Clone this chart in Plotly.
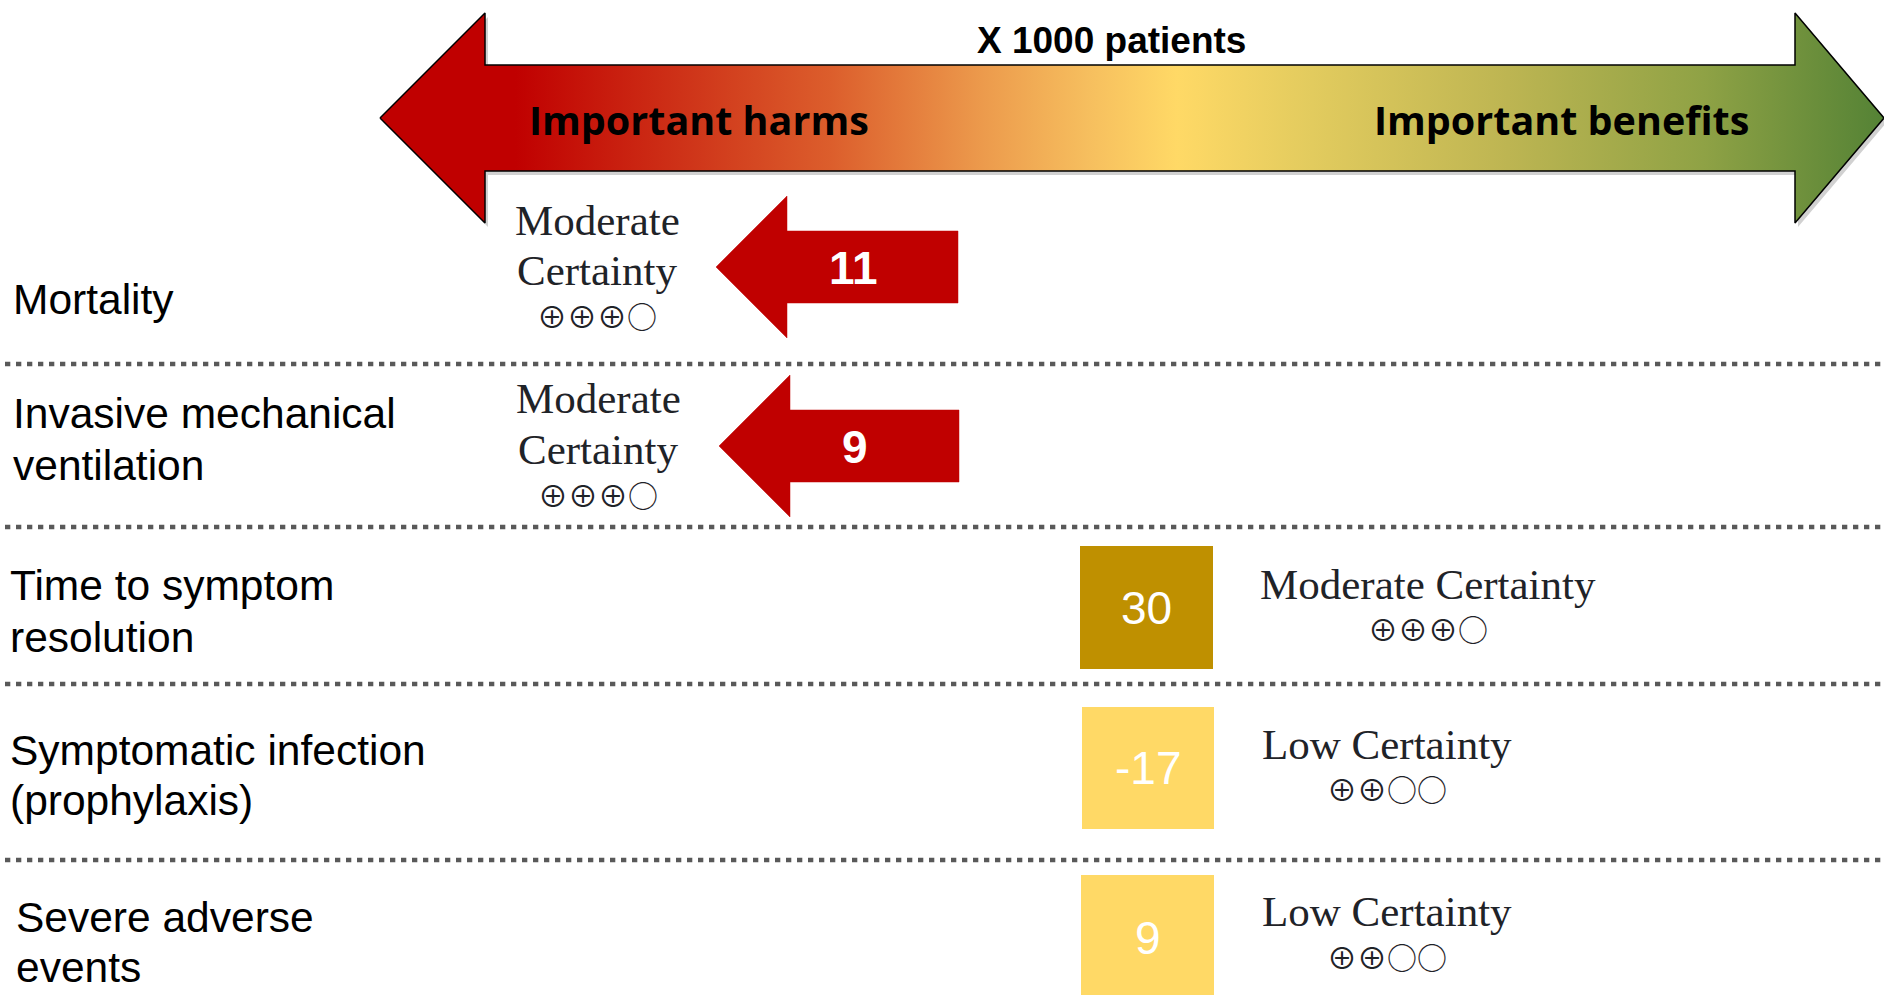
import plotly.graph_objects as go

# ---------------- data ----------------
outcomes = [
    ["Mortality"],
    ["Invasive mechanical", "ventilation"],
    ["Time to symptom", "resolution"],
    ["Symptomatic infection", "(prophylaxis)"],
    ["Severe adverse", "events"],
]
effects = [11, 9, 30, -17, 9]
certainty = ["Moderate", "Moderate", "Moderate", "Low", "Low"]
rating = [3, 3, 3, 2, 2]
marker_kind = ["arrow", "arrow", "box", "box", "box"]
box_colors = [None, None, "#BF9000", "#FFD966", "#FFD966"]
header_text = "X 1000 patients"
harms_text = "Important harms"
benefits_text = "Important benefits"

# ---------------- layout constants ----------------
W, H = 1884, 995
sep_y = [364, 527, 684, 860]
label_x = [11, 11, 8, 8, 14]
label_y = [[299], [413, 465], [585, 637], [750, 800], [917, 967]]

arrow_cy = [267, 446]
arrow_tip = [716, 719]
arrow_base = [787, 790]
arrow_right = [958, 959]
arrow_num_x = [853, 855]
head_half, shaft_half = 71, 36

box_x = [(1080, 1213), (1082, 1214), (1081, 1214)]
box_y = [(546, 669), (707, 829), (875, 1000)]
box_num_y = [608, 768, 938]

cert_left_x = [597, 598]
cert_left_y = [(220, 270, 315), (398, 449, 494)]
cert_right = [(1428, 584, 628), (1387, 744, 788), (1387, 911, 956)]

SERIF = "Liberation Serif, Times New Roman"
SANS = "Liberation Sans, Arial"
SYM = "Noto Sans CJK JP"
TXT = "#1F2328"


def symbols(r):
    return "⊕" * r + "○" * (4 - r)


fig = go.Figure()

# big double arrow (gradient) ----------------------------------------
L_tip, L_base, R_base, R_tip = 380, 485, 1795, 1884
cy, htop, hbot, stop_, sbot = 118, 13, 223, 65, 171
ax = [L_tip, L_base, L_base, R_base, R_base, R_tip, R_base, R_base, L_base, L_base, L_tip]
ay = [cy, htop, stop_, stop_, htop, cy, hbot, sbot, sbot, hbot, cy]

fig.add_trace(go.Scatter(
    x=[v + 3 for v in ax], y=[v + 4 for v in ay], mode="lines", fill="toself",
    fillcolor="rgba(0,0,0,0.18)", line=dict(width=0), hoverinfo="skip", showlegend=False))
fig.add_trace(go.Scatter(
    x=ax, y=ay, mode="lines", fill="toself",
    fillgradient=dict(
        type="horizontal", start=L_tip, stop=R_tip,
        colorscale=[
            [0.0, "#C00000"], [0.09, "#C00000"], [0.2, "#CE3218"],
            [0.3, "#DC5E2C"], [0.4, "#EC9A4C"], [0.47, "#F6BE5E"],
            [0.53, "#FFD966"], [0.62, "#E2CB5E"], [0.75, "#BDB552"],
            [0.88, "#8FA245"], [1.0, "#548235"],
        ]),
    line=dict(color="black", width=1.5), hoverinfo="skip", showlegend=False))

# separators ---------------------------------------------------------
for y in sep_y:
    fig.add_shape(type="line", x0=5, x1=W, y0=y, y1=y, xref="x", yref="y",
                  line=dict(color="#595959", width=4.7, dash="5.3px,5.7px"))

# row labels ---------------------------------------------------------
for i, lines in enumerate(outcomes):
    for j, t in enumerate(lines):
        fig.add_annotation(x=label_x[i], y=label_y[i][j], text=t, showarrow=False,
                           xanchor="left", yanchor="middle", xref="x", yref="y",
                           font=dict(family=SANS, size=42.5, color="black"))

# marks --------------------------------------------------------------
ai = 0
bi = 0
for i, kind in enumerate(marker_kind):
    if kind == "arrow":
        c, tip, base, right = arrow_cy[ai], arrow_tip[ai], arrow_base[ai], arrow_right[ai]
        px = [tip, base, base, right, right, base, base, tip]
        py = [c, c - head_half, c - shaft_half, c - shaft_half, c + shaft_half,
              c + shaft_half, c + head_half, c]
        path = "M " + " L ".join(f"{a},{b}" for a, b in zip(px, py)) + " Z"
        fig.add_shape(type="path", path=path, xref="x", yref="y",
                      fillcolor="#C00000", line=dict(color="#C00000", width=0.5))
        fig.add_annotation(x=arrow_num_x[ai], y=c + 1, text=str(effects[i]),
                           showarrow=False, xref="x", yref="y",
                           font=dict(family=SANS, size=46, color="white", weight="bold"))
        lx = cert_left_x[ai]
        y1, y2, y3 = cert_left_y[ai]
        fig.add_annotation(x=lx, y=y1, text=certainty[i], showarrow=False, xref="x", yref="y",
                           font=dict(family=SERIF, size=43, color=TXT))
        fig.add_annotation(x=lx, y=y2, text="Certainty", showarrow=False, xref="x", yref="y",
                           font=dict(family=SERIF, size=43, color=TXT))
        fig.add_annotation(x=lx, y=y3, text=symbols(rating[i]), showarrow=False, xref="x",
                           yref="y", font=dict(family=SYM, size=30, color=TXT))
        ai += 1
    else:
        x0, x1 = box_x[bi]
        y0, y1 = box_y[bi]
        fig.add_shape(type="rect", x0=x0, x1=x1, y0=y0, y1=y1, xref="x", yref="y",
                      fillcolor=box_colors[i], line=dict(width=0))
        fig.add_annotation(x=(x0 + x1) / 2, y=box_num_y[bi],
                           text=str(effects[i]), showarrow=False, xref="x", yref="y",
                           font=dict(family=SANS, size=46, color="white"))
        cx, ty, sy = cert_right[bi]
        fig.add_annotation(x=cx, y=ty, text=f"{certainty[i]} Certainty", showarrow=False,
                           xref="x", yref="y", font=dict(family=SERIF, size=43, color=TXT))
        fig.add_annotation(x=cx, y=sy, text=symbols(rating[i]), showarrow=False, xref="x",
                           yref="y", font=dict(family=SYM, size=30, color=TXT))
        bi += 1

# header texts -------------------------------------------------------
fig.add_annotation(x=1111, y=40, text=header_text, showarrow=False, xref="x", yref="y",
                   font=dict(family=SANS, size=37, color="black", weight="bold"))
fig.add_annotation(x=699, y=120, text=harms_text, showarrow=False, xref="x", yref="y",
                   font=dict(family="Open Sans", size=39.5, color="black", weight="bold"))
fig.add_annotation(x=1561, y=120, text=benefits_text, showarrow=False, xref="x", yref="y",
                   font=dict(family="Open Sans", size=39.5, color="black", weight="bold"))

fig.update_layout(
    width=W, height=H, margin=dict(l=0, r=0, t=0, b=0),
    paper_bgcolor="white", plot_bgcolor="white", showlegend=False,
    xaxis=dict(range=[0, W], visible=False, fixedrange=True),
    yaxis=dict(range=[H, 0], visible=False, fixedrange=True),
)
fig.write_html("out.html", config={"displayModeBar": False},
               post_script="document.body.style.margin='0';document.body.style.overflow='hidden';")
